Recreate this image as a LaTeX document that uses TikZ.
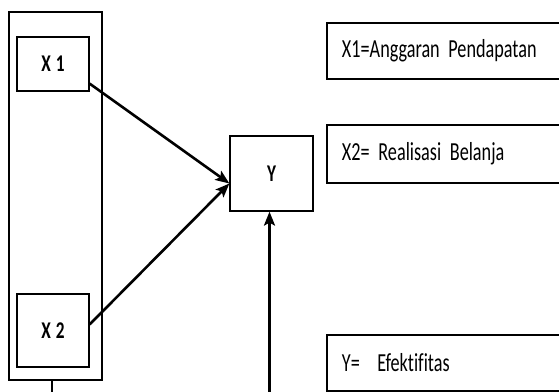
\documentclass[tikz,border=0pt]{standalone}
\usepackage{fontspec}
\setmainfont{Carlito}[FakeStretch=0.7, Ligatures=NoCommon]
\newfontfamily\varfont{Carlito}[UprightFont={* Bold}, FakeStretch=0.72]
\usetikzlibrary{positioning,arrows.meta}
\newcommand\varstyle{\varfont\fontsize{12}{14}\selectfont\fontdimen2\font=2.5pt\relax}
\newcommand\defstyle{\fontsize{13}{15}\selectfont\fontdimen2\font=2.2pt\relax}

\begin{document}
\begin{tikzpicture}[x=0.5pt, y=-0.5pt,
  varbox/.style={draw, line width=0.6pt, inner sep=0pt, font=\varstyle},
  defbox/.style={draw, line width=0.6pt, minimum width=126.5pt, text width=111.5pt, align=left,
    inner xsep=7.5pt, font=\defstyle},
  link/.style={line width=1.3pt, -{Stealth[length=7pt, width=5.5pt, inset=1.5pt]}}]
  \useasboundingbox (0,0) rectangle (559,392);
  \clip (0,0) rectangle (559,392);

  % outer frame around the two variables
  \node[draw, line width=0.6pt, minimum width=46.5pt, minimum height=184pt] (frame) at (55.5,196) {};

  % variables
  \node[varbox, minimum width=36pt, minimum height=27pt] (X1) at (53,64) {X 1};
  \node[varbox, minimum width=36pt, minimum height=36.5pt] (X2) at (53,330.5) {X 2};
  \node[varbox, minimum width=41.5pt, minimum height=37.5pt] (Y) at (271.5,173.5) {Y};

  % legend boxes
  \node[defbox, minimum height=28pt] (defX1) at (453.5,51) {X1=Anggaran Pendapatan};
  \node[defbox, minimum height=29pt] (defX2) at (453.5,154) {X2= Realisasi Belanja};
  \node[defbox, minimum height=28pt] (defY) at (453.5,363) {Y=~ Efektifitas};

  % arrows into Y
  \coordinate (meet) at ([yshift=-5pt]Y.west);
  \draw[link] ([yshift=4pt]X1.south east) -- (meet);
  \draw[link] ([yshift=3pt]X2.east) -- (meet);

  % lines leaving the picture at the bottom
  \coordinate (ybot) at (269.5,400);
  \draw[link] (ybot) -- (ybot |- Y.south);
  \coordinate (fbot) at (52,400);
  \draw[line width=0.6pt] (fbot |- frame.south) -- (fbot);
\end{tikzpicture}
\end{document}
